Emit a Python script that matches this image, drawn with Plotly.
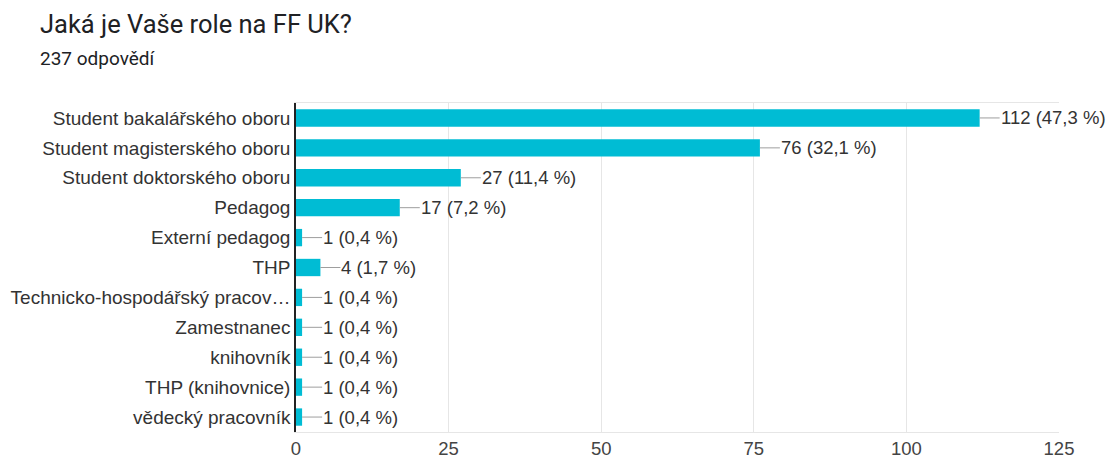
import plotly.graph_objects as go

# Survey answers: role at the faculty
roles = [
    "Student bakalářského oboru",
    "Student magisterského oboru",
    "Student doktorského oboru",
    "Pedagog",
    "Externí pedagog",
    "THP",
    "Technicko-hospodářský pracov…",
    "Zamestnanec",
    "knihovník",
    "THP (knihovnice)",
    "vědecký pracovník",
]
counts = [112, 76, 27, 17, 1, 4, 1, 1, 1, 1, 1]
total_responses = 237
x_ticks = [0, 25, 50, 75, 100, 125]

title_text = "Jaká je Vaše role na FF UK?"
subtitle_text = f"{total_responses} odpovědí"

BAR_COLOR = "#00bcd4"
TEXT_COLOR = "#333333"
LABEL_FONT = "Liberation Sans, Arial, sans-serif"


def value_label(n):
    pct = f"{n / total_responses * 100:.1f}".replace(".", ",")
    return f"{n} ({pct} %)"


fig = go.Figure(
    go.Bar(
        x=counts,
        y=roles,
        orientation="h",
        marker=dict(color=BAR_COLOR, line=dict(width=0)),
        hoverinfo="skip",
    )
)

# Value labels joined to the bar end by a short grey leader line
annotations = []
for role, n in zip(roles, counts):
    annotations.append(
        dict(
            x=n, y=role, xref="x", yref="y",
            text=value_label(n),
            showarrow=True, arrowhead=0, arrowwidth=1, arrowcolor="#9e9e9e",
            standoff=0, startstandoff=0,
            ax=20, ay=0,
            xanchor="left", yanchor="middle",
            borderpad=0,
            font=dict(family=LABEL_FONT, size=18.5, color=TEXT_COLOR),
        )
    )

fig.update_layout(
    width=1111,
    height=459,
    margin=dict(l=296, r=52, t=103, b=27, autoexpand=False),
    paper_bgcolor="white",
    plot_bgcolor="white",
    bargap=0.42,
    showlegend=False,
    title=dict(
        text=title_text,
        font=dict(family="Roboto, sans-serif", size=25.5, color="#202124"),
        xref="container", yref="container",
        x=40 / 1111, xanchor="left",
        y=1 - 24 / 459, yanchor="middle",
        pad=dict(l=0, r=0, t=0, b=0),
    ),
    annotations=annotations + [
        dict(
            text=subtitle_text,
            xref="paper", yref="paper",
            x=(38 - 296) / 763, y=(432 - 58) / 329,
            xanchor="left", yanchor="middle",
            showarrow=False,
            font=dict(family="Roboto, sans-serif", size=19, color="#202124"),
        )
    ],
    xaxis=dict(
        range=[0, 125],
        tickvals=x_ticks,
        ticktext=[str(t) for t in x_ticks],
        showgrid=True,
        gridcolor="#e6e6e6",
        gridwidth=1,
        zeroline=False,
        showline=True,
        linecolor="#e6e6e6",
        linewidth=1,
        mirror=True,
        ticks="",
        ticklabelstandoff=0,
        automargin=False,
        tickfont=dict(family=LABEL_FONT, size=18.5, color="#444444"),
        fixedrange=True,
    ),
    yaxis=dict(
        categoryorder="array",
        categoryarray=roles,
        autorange="reversed",
        showgrid=False,
        zeroline=False,
        showline=True,
        linecolor="#222222",
        linewidth=1.5,
        ticks="",
        ticklabelstandoff=0,
        automargin=False,
        tickfont=dict(family=LABEL_FONT, size=19, color=TEXT_COLOR),
        fixedrange=True,
    ),
)

fig.write_html("out.html", config={"displayModeBar": False})
